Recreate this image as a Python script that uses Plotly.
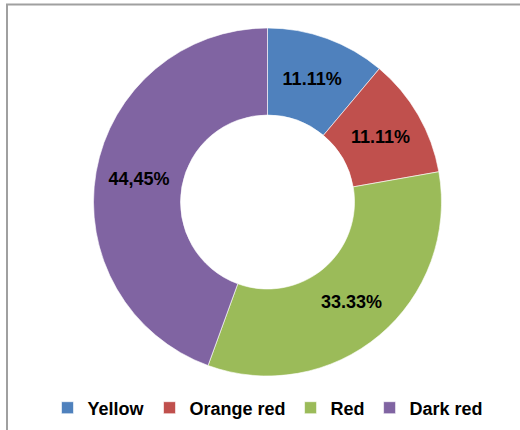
import plotly.graph_objects as go

# Share of each category
categories = ["Yellow", "Orange red", "Red", "Dark red"]
values = [11.11, 11.11, 33.33, 44.45]
value_labels = ["11.11%", "11.11%", "33.33%", "44,45%"]
colors = ["#4F81BD", "#C0504D", "#9BBB59", "#8064A2"]

W, H = 520, 430
FONT = "Arial, Liberation Sans"


def px_x(x):
    return x / W


def px_y(y):
    return 1 - y / H


# donut centre and outer radius, in pixels
cx, cy, rad = 267.5, 202, 174

fig = go.Figure(
    go.Pie(
        labels=categories,
        values=values,
        text=value_labels,
        textinfo="text",
        textposition="inside",
        insidetextorientation="horizontal",
        hole=0.5,
        sort=False,
        direction="clockwise",
        rotation=0,
        domain=dict(x=[px_x(cx - rad), px_x(cx + rad)], y=[px_y(cy + rad), px_y(cy - rad)]),
        marker=dict(colors=colors, line=dict(color="white", width=0.6)),
        textfont=dict(family=FONT, size=18, color="black", weight="bold"),
        hoverinfo="label+text",
    )
)

# outer frame around the chart
fig.add_shape(
    type="rect",
    xref="paper", yref="paper",
    x0=px_x(7), x1=px_x(W + 10),
    y0=px_y(H + 10), y1=px_y(4.5),
    line=dict(color="#A0A0A0", width=2),
    fillcolor="rgba(0,0,0,0)",
    layer="below",
)

fig.update_layout(
    width=W,
    height=H,
    margin=dict(l=0, r=0, t=0, b=0),
    paper_bgcolor="white",
    plot_bgcolor="white",
    showlegend=True,
    legend=dict(
        orientation="h",
        x=px_x(268), xanchor="center",
        y=px_y(408), yanchor="middle",
        font=dict(family=FONT, size=18, color="black", weight="bold"),
        itemwidth=30,
        traceorder="normal",
        bgcolor="rgba(0,0,0,0)",
    ),
    uniformtext=dict(minsize=18, mode="show"),
)

fig.write_html("out.html")
